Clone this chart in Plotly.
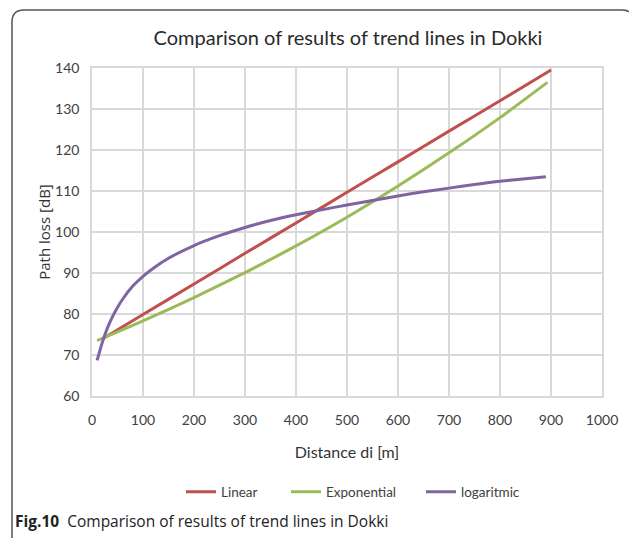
import plotly.graph_objects as go

# ---- data ----
linear_x = [20, 100, 200, 300, 400, 500, 600, 700, 800, 900]
linear_y = [73.9, 79.9, 87.3, 94.8, 102.2, 109.7, 117.1, 124.6, 132.0, 139.5]

exp_x = [10, 100, 200, 300, 400, 500, 600, 700, 800, 893]
exp_y = [73.5, 78.3, 84.0, 90.1, 96.6, 103.6, 111.2, 119.3, 127.9, 136.5]

log_x = [10, 20, 30, 40, 50, 60, 80, 100, 125, 150, 200, 250, 300, 350, 400,
         450, 500, 550, 600, 650, 700, 750, 800, 850, 890]
log_y = [68.7, 73.0, 76.5, 79.3, 81.6, 83.6, 86.8, 89.2, 91.6, 93.6, 96.7, 99.1,
         101.1, 102.8, 104.2, 105.4, 106.6, 107.7, 108.8, 109.8, 110.7, 111.6,
         112.4, 113.0, 113.5]

x_ticks = [0, 100, 200, 300, 400, 500, 600, 700, 800, 900, 1000]
y_ticks = [60, 70, 80, 90, 100, 110, 120, 130, 140]

TITLE = "Comparison of results of trend lines in Dokki"
CAPTION_BOLD = "Fig.10"
CAPTION = "Comparison of results of trend lines in Dokki"

# page body margin of the browser shifts the figure by 8 px
OFF = 8
W, H = 637 - OFF, 538 - OFF
ML, MT = 92 - OFF, 68 - OFF
MR, MB = 637 - 602, 538 - 396
PW, PH = W - ML - MR, H - MT - MB

def px(xp):  # window x pixel -> paper
    return (xp - OFF - ML) / PW

def py(yp):  # window y pixel -> paper
    return (H - MB - (yp - OFF)) / PH

FONT = "Lato, sans-serif"
TICK_FONT = dict(family=FONT, size=14, color="#404040")
LEG_FONT = dict(family=FONT, size=13.5, color="#404040")

fig = go.Figure()
fig.add_trace(go.Scatter(x=linear_x, y=linear_y, mode="lines", name="Linear", legend="legend",
                         line=dict(color="#c0504d", width=3, shape="spline", smoothing=0.6)))
fig.add_trace(go.Scatter(x=exp_x, y=exp_y, mode="lines", name="Exponential", legend="legend2",
                         line=dict(color="#9bbb59", width=3, shape="spline", smoothing=0.6)))
fig.add_trace(go.Scatter(x=log_x, y=log_y, mode="lines", name="logaritmic", legend="legend3",
                         line=dict(color="#8064a2", width=3, shape="spline", smoothing=0.6)))

# rounded frame around the figure (open at bottom)
x0, x1, y0, y1, r = 12, 634, 10, 560, 12
path = (f"M {px(x0)} {py(y1)} L {px(x0)} {py(y0 + r)} "
        f"Q {px(x0)} {py(y0)} {px(x0 + r)} {py(y0)} "
        f"L {px(x1 - r)} {py(y0)} Q {px(x1)} {py(y0)} {px(x1)} {py(y0 + r)} "
        f"L {px(x1)} {py(y1)}")
fig.add_shape(type="path", path=path, xref="paper", yref="paper",
              line=dict(color="#555555", width=1.5))

fig.add_annotation(x=px(13), y=py(521), xref="paper", yref="paper",
                   xanchor="left", yanchor="middle", showarrow=False,
                   text=f"<b>{CAPTION_BOLD}</b>  {CAPTION}",
                   font=dict(family="Open Sans, sans-serif", size=15.5, color="#222222"))

def leg(xpix):
    return dict(orientation="h", x=px(xpix), xanchor="left", y=py(492), yanchor="middle",
                font=LEG_FONT, bgcolor="rgba(0,0,0,0)")

fig.update_layout(
    width=W, height=H,
    margin=dict(l=ML, r=MR, t=MT, b=MB),
    paper_bgcolor="white", plot_bgcolor="white",
    title=dict(text=TITLE, x=(348 - OFF) / W, xanchor="center",
               y=1 - (38 - OFF) / H, yanchor="middle",
               font=dict(family=FONT, size=20, color="#2a2a2a", weight=400)),
    showlegend=True,
    legend=leg(181), legend2=leg(286), legend3=leg(421),
    xaxis=dict(range=[0, 1000], tickvals=x_ticks, ticktext=[str(v) for v in x_ticks],
               showgrid=True, gridcolor="#d9d9d9", gridwidth=1.5,
               showline=True, linecolor="#d9d9d9", linewidth=1.5, mirror=True,
               zeroline=False, ticks="", tickfont=TICK_FONT, ticklabelstandoff=10,
               title=dict(text="Distance di [m]", standoff=20,
                          font=dict(family=FONT, size=16, color="#333333"))),
    yaxis=dict(range=[60, 140], tickvals=y_ticks, ticktext=[str(v) for v in y_ticks],
               showgrid=True, gridcolor="#d9d9d9", gridwidth=1.5,
               showline=True, linecolor="#d9d9d9", linewidth=1.5, mirror=True,
               zeroline=False, ticks="", tickfont=TICK_FONT, ticklabelstandoff=8,
               title=dict(text="Path loss [dB]", standoff=1,
                          font=dict(family="Open Sans, sans-serif", size=15, color="#333333"))),
)

fig.write_html("out.html")
